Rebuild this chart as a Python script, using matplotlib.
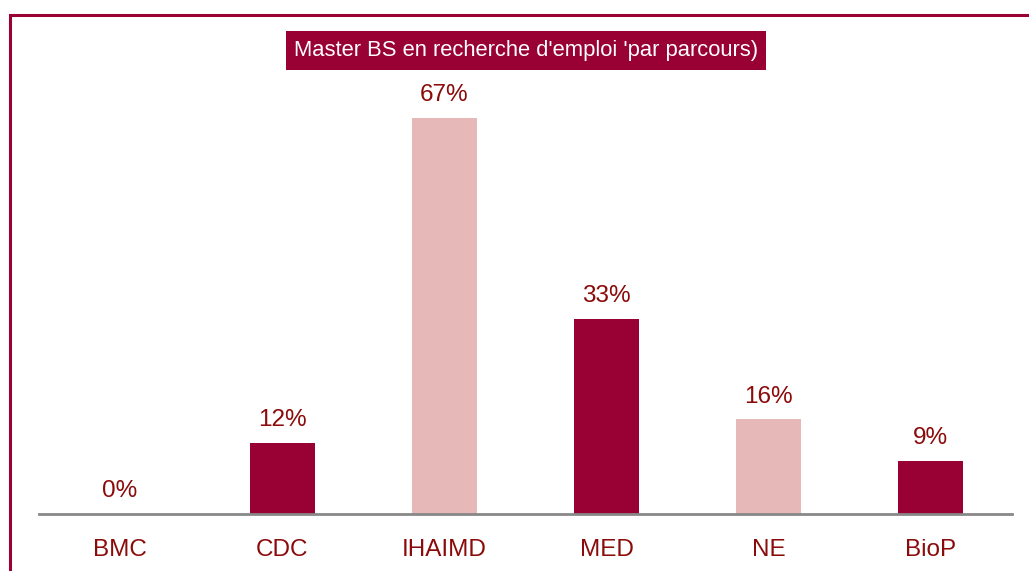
import matplotlib
matplotlib.use("Agg")
import matplotlib.pyplot as plt
from matplotlib.patches import Rectangle

# ---------------------------------------------------------------------------
# Data
# ---------------------------------------------------------------------------
categories = ["BMC", "CDC", "IHAIMD", "MED", "NE", "BioP"]
values = [0, 12, 67, 33, 16, 9]
bar_colors = ["#990033", "#990033", "#E6B8B7", "#990033", "#E6B8B7", "#990033"]
title = "Master BS en recherche d'emploi 'par parcours)"

DARK = "#990033"
TEXT = "#8B0A0A"
FONT = ["Liberation Sans Narrow", "Liberation Sans", "DejaVu Sans"]

W, H = 1029, 571
fig = plt.figure(figsize=(W / 100, H / 100), dpi=100)

# axes placed in pixel terms: x from 39 to 1012, baseline at y=514
left, right = 39 / W, 1012 / W
bottom = (H - 514) / H
top = (H - 60) / H
ax = fig.add_axes([left, bottom, right - left, top - bottom])

x = range(len(categories))
ax.bar(x, values, width=0.4, color=bar_colors, zorder=2)
for xi, v in zip(x, values):
    ax.text(xi, v + 2.0, f"{v}%", ha="center", va="bottom",
            fontsize=17.5, color=TEXT, family=FONT)

ax.set_xlim(-0.5, len(categories) - 0.5)
ax.set_ylim(0, 454 / 5.91)
ax.set_xticks(list(x))
ax.set_xticklabels(categories, fontsize=17.5, color=TEXT, family=FONT)
ax.tick_params(axis="x", length=0, pad=18)
ax.set_yticks([])
for s in ["left", "right", "top"]:
    ax.spines[s].set_visible(False)
ax.spines["bottom"].set_color("#888888")
ax.spines["bottom"].set_linewidth(2)
ax.spines["bottom"].set_zorder(3)

# title in a filled box
fig.patches.append(Rectangle((286 / W, (H - 70) / H), 480 / W, 39 / H,
                             transform=fig.transFigure, fc=DARK, ec="none"))
fig.text(526 / W, (H - 50.5) / H, title, ha="center", va="center",
         fontsize=15.8, color="white", family=FONT)

# outer frame (runs off the right and bottom edges)
fig.patches.append(Rectangle((9.5 / W, -0.2), 1.2, 1.2 - 15 / H,
                             transform=fig.transFigure, fill=False,
                             ec=DARK, lw=2.2))

fig.savefig("out.png", dpi=100)
